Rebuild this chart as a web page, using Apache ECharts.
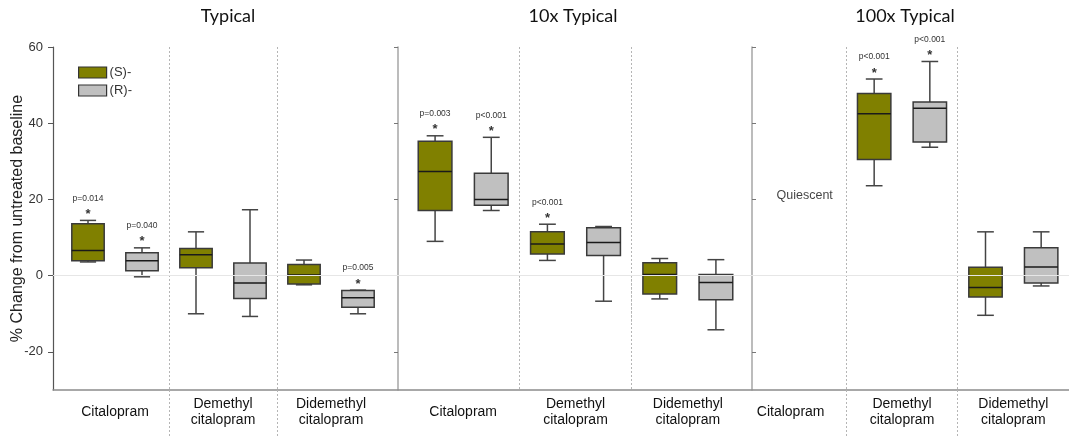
<!DOCTYPE html>
<html>
<head>
<meta charset="utf-8">
<script src="https://cdn.jsdelivr.net/npm/echarts@6/dist/echarts.min.js"></script>
<style>
  html, body { margin: 0; padding: 0; background: #fff; }
  #main { width: 1069px; height: 437px; }
</style>
</head>
<body>
<div id="main"></div>
<script>
var panels = ['Typical', '10x Typical', '100x Typical'];
var drugs = ['Citalopram', 'Demethyl\ncitalopram', 'Didemethyl\ncitalopram'];
var seriesNames = ['(S)-', '(R)-'];

// [min, Q1, median, Q3, max] for each drug, null = no box (quiescent)
var sTypical = [[3.6, 3.9, 6.6, 13.6, 14.5], [-10.0, 2.1, 5.5, 7.1, 11.5], [-2.4, -2.2, 0.2, 2.9, 4.1]];
var rTypical = [[-0.3, 1.3, 3.9, 6.0, 7.3], [-10.7, -6.0, -1.9, 3.3, 17.3], [-10.0, -8.3, -5.8, -3.9, -3.8]];
var s10x = [[9.0, 17.1, 27.3, 35.3, 36.7], [4.0, 5.7, 8.3, 11.5, 13.5], [-6.1, -4.8, 0.3, 3.4, 4.5]];
var r10x = [[17.1, 18.5, 20.0, 26.9, 36.3], [-6.7, 5.3, 8.7, 12.6, 12.9], [-14.2, -6.3, -1.8, 0.3, 4.2]];
var s100x = [null, [23.6, 30.5, 42.5, 47.8, 51.6], [-10.4, -5.6, -3.1, 2.2, 11.5]];
var r100x = [null, [33.7, 35.1, 43.9, 45.6, 56.2], [-2.7, -1.9, 2.3, 7.3, 11.5]];

// significance labels
var pS = [['p=0.014', null, null], ['p=0.003', 'p<0.001', null], [null, 'p<0.001', null]];
var pR = [['p=0.040', null, 'p=0.005'], ['p<0.001', null, null], [null, 'p<0.001', null]];

var yTicks = [-20, 0, 20, 40, 60];

var sData = [sTypical, s10x, s100x];
var rData = [rTypical, r10x, r100x];

var chart = echarts.init(document.getElementById('main'));

var arial = '"Liberation Sans", Arial, sans-serif';

function toData(rows) {
  var out = [];
  rows.forEach(function (r, i) {
    if (r) out.push([i].concat(r));
  });
  return out;
}

function boxRenderer(side, pvals) {
  return function (params, api) {
    var cat = api.value(0);
    var band = api.size([1, 0])[0];
    var cx = api.coord([cat, 0])[0] + side * band / 4;
    var w = band * 0.3;
    var yMin = api.coord([cat, api.value(1)])[1];
    var yQ1 = api.coord([cat, api.value(2)])[1];
    var yMed = api.coord([cat, api.value(3)])[1];
    var yQ3 = api.coord([cat, api.value(4)])[1];
    var yMax = api.coord([cat, api.value(5)])[1];
    var whisker = { stroke: '#444', lineWidth: 1.5 };
    var children = [
      { type: 'line', shape: { x1: cx, y1: yQ3, x2: cx, y2: yMax }, style: whisker },
      { type: 'line', shape: { x1: cx, y1: yQ1, x2: cx, y2: yMin }, style: whisker },
      { type: 'line', shape: { x1: cx - w / 4, y1: yMax, x2: cx + w / 4, y2: yMax }, style: whisker },
      { type: 'line', shape: { x1: cx - w / 4, y1: yMin, x2: cx + w / 4, y2: yMin }, style: whisker },
      { type: 'rect', shape: { x: cx - w / 2, y: yQ3, width: w, height: yQ1 - yQ3 },
        style: { fill: api.visual('color'), stroke: '#3a3a3a', lineWidth: 1.5 } },
      { type: 'line', shape: { x1: cx - w / 2, y1: yMed, x2: cx + w / 2, y2: yMed },
        style: { stroke: '#1a1a1a', lineWidth: 1.5 } }
    ];
    var p = pvals[cat];
    if (p) {
      children.push({ type: 'text', style: { text: p, x: cx, y: yMax - 22, align: 'center', verticalAlign: 'middle',
        font: '8.5px ' + arial, fill: '#333' } });
      children.push({ type: 'text', style: { text: '*', x: cx, y: yMax - 6, align: 'center', verticalAlign: 'middle',
        font: 'bold 13px ' + arial, fill: '#333' } });
    }
    return { type: 'group', children: children };
  };
}

// one grid per panel, plus a full width grid for the base line
var grids = [
  { left: 61, width: 324, top: 47, bottom: 47 },
  { left: 407, width: 337, top: 47, bottom: 47 },
  { left: 735, width: 338, top: 47, bottom: 47 },
  { left: 53, right: 0, top: 47, bottom: 47 }
];

var dotted = { color: '#b5b5b5', type: [2, 2], width: 1 };
var xAxes = [];
panels.forEach(function (p, g) {
  xAxes.push({
    type: 'category', gridIndex: g, data: drugs, position: 'bottom',
    axisLine: { show: false }, axisTick: { show: false }, splitLine: { show: false },
    axisLabel: { interval: 0, margin: 22, verticalAlign: 'middle', lineHeight: 16,
      fontFamily: arial, fontSize: 14, color: '#111' }
  });
  xAxes.push({
    type: 'category', gridIndex: g, data: ['', '', '', ''], boundaryGap: false, position: 'bottom',
    axisLine: { show: false }, axisLabel: { show: false },
    axisTick: { show: true, length: 47, interval: function (i) { return i === 1 || i === 2; }, lineStyle: dotted },
    splitLine: { show: true, interval: function (i) { return i === 1 || i === 2; }, lineStyle: dotted }
  });
});
xAxes.push({
  type: 'value', gridIndex: 3, min: 0, max: 1, position: 'bottom',
  axisLine: { show: true, onZero: false, lineStyle: { color: '#8c8c8c', width: 1.5 } },
  axisTick: { show: false }, axisLabel: { show: false }, splitLine: { show: false }
});

var yBase = { type: 'value', min: -30, max: 60, interval: 10, splitLine: { show: false } };
var yAxes = [
  Object.assign({}, yBase, {
    gridIndex: 0, position: 'left', offset: 8,
    name: '% Change from untreated baseline', nameLocation: 'middle', nameGap: 27, nameMoveOverlap: false,
    nameTextStyle: { fontFamily: arial, fontSize: 16, color: '#222' },
    axisLine: { show: true, lineStyle: { color: '#555', width: 1.2 } },
    axisTick: { show: true, length: 5, customValues: yTicks, lineStyle: { color: '#555' } },
    axisLabel: { customValues: yTicks, margin: 10, fontFamily: arial, fontSize: 13, color: '#333' }
  }),
  Object.assign({}, yBase, {
    gridIndex: 1, position: 'left', offset: 9,
    axisLine: { show: true, lineStyle: { color: '#a6a6a6', width: 1.5 } },
    axisTick: { show: true, length: 4, customValues: yTicks, lineStyle: { color: '#777' } },
    axisLabel: { show: false }
  }),
  Object.assign({}, yBase, {
    gridIndex: 1, position: 'right', offset: 8,
    axisLine: { show: true, lineStyle: { color: '#a6a6a6', width: 1.5 } },
    axisTick: { show: true, length: 4, customValues: yTicks, lineStyle: { color: '#777' } },
    axisLabel: { show: false }
  }),
  Object.assign({}, yBase, { gridIndex: 2, show: false }),
  Object.assign({}, yBase, { gridIndex: 3, show: false })
];
var panelY = [0, 1, 3];

var series = [{
  type: 'line', xAxisIndex: 6, yAxisIndex: 4, data: [], z: 1, silent: true,
  markLine: { silent: true, symbol: 'none', label: { show: false },
    lineStyle: { color: '#e6e6e6', type: 'solid', width: 1 }, data: [{ yAxis: 0 }] }
}];

panels.forEach(function (p, g) {
  series.push({
    name: seriesNames[0], type: 'custom', xAxisIndex: g * 2, yAxisIndex: panelY[g],
    itemStyle: { color: '#808000' },
    renderItem: boxRenderer(-1, pS[g]),
    encode: { x: 0, y: [1, 2, 3, 4, 5] },
    data: toData(sData[g])
  });
  series.push({
    name: seriesNames[1], type: 'custom', xAxisIndex: g * 2, yAxisIndex: panelY[g],
    itemStyle: { color: '#c0c0c0' },
    renderItem: boxRenderer(1, pR[g]),
    encode: { x: 0, y: [1, 2, 3, 4, 5] },
    data: toData(rData[g])
  });
});

series.push({
  type: 'scatter', xAxisIndex: 4, yAxisIndex: 3, symbolSize: 1, silent: true,
  itemStyle: { color: 'rgba(0,0,0,0)' },
  label: { show: true, position: 'inside', offset: [14, 0], formatter: 'Quiescent',
    fontFamily: arial, fontSize: 12.5, color: '#111' },
  data: [[0, 21]]
});

var titleX = [228, 573, 905];
var titles = panels.map(function (p, i) {
  return { text: p, left: titleX[i], top: 7, textAlign: 'center', padding: 0,
    textStyle: { fontFamily: 'Lato, "Open Sans", sans-serif', fontSize: 18, fontWeight: 'normal', color: '#111' } };
});

chart.setOption({
  animation: false,
  title: titles,
  legend: {
    data: seriesNames, orient: 'vertical', left: 73, top: 61, itemWidth: 28, itemHeight: 11, itemGap: 5,
    icon: 'rect', itemStyle: { borderColor: '#333', borderWidth: 1.2 },
    textStyle: { fontFamily: arial, fontSize: 13, color: '#333', padding: [0, 0, 0, -2] }
  },
  grid: grids,
  xAxis: xAxes,
  yAxis: yAxes,
  series: series
});
</script>
</body>
</html>
